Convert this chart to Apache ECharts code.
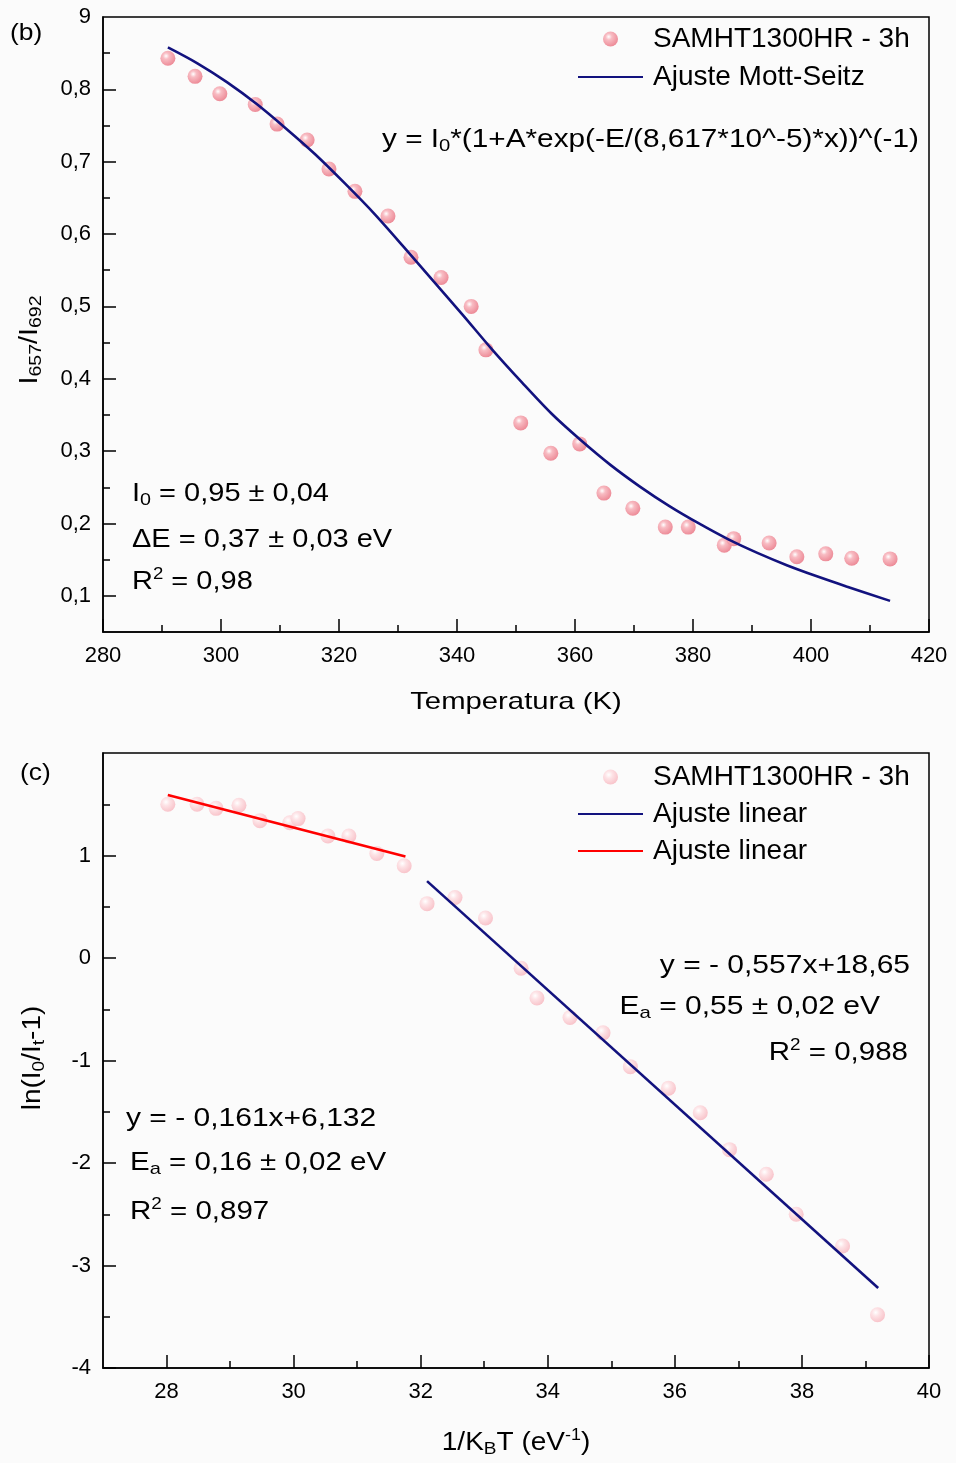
<!DOCTYPE html>
<html>
<head>
<meta charset="utf-8">
<script src="https://cdn.jsdelivr.net/npm/echarts@6/dist/echarts.min.js"></script>
<style>
  html, body { margin: 0; padding: 0; background: #fbfbfb; }
  #chart { width: 956px; height: 1463px; }
</style>
</head>
<body>
<div id="chart"></div>
<script>
// ---- Panel (b): intensity ratio vs temperature ----
const tempK = [291.0, 295.6, 299.8, 305.8, 309.5, 314.6, 318.3, 322.7, 328.3, 332.2,
  337.3, 342.4, 344.9, 350.8, 355.9, 360.8, 364.9, 369.8, 375.3, 379.2,
  385.3, 386.9, 392.9, 397.6, 402.5, 406.9, 413.4];
const ratio = [0.843, 0.818, 0.794, 0.779, 0.752, 0.730, 0.690, 0.659, 0.625, 0.568,
  0.540, 0.500, 0.440, 0.339, 0.297, 0.310, 0.242, 0.221, 0.195, 0.195,
  0.170, 0.179, 0.173, 0.154, 0.158, 0.152, 0.151];
// Mott-Seitz fit curve, sampled along its length
const fitT = [291, 296, 301, 306, 311, 316, 321, 326, 331, 336, 341, 346, 351, 356,
  361, 366, 371, 376, 381, 386, 391, 396, 401, 406, 413.4];
const fitRatio = [0.858, 0.836, 0.810, 0.780, 0.746, 0.710, 0.670, 0.628, 0.582, 0.535,
  0.488, 0.440, 0.395, 0.352, 0.315, 0.281, 0.251, 0.224, 0.200, 0.178,
  0.159, 0.142, 0.127, 0.113, 0.093];
const bYLabels = [0.1, 0.2, 0.3, 0.4, 0.5, 0.6, 0.7, 0.8, 0.9];
const bYMajor = [0.1, 0.2, 0.3, 0.4, 0.5, 0.6, 0.7, 0.8];
const bYMinor = [0.15, 0.25, 0.35, 0.45, 0.55, 0.65, 0.75, 0.85];
const bXMajor = [280, 300, 320, 340, 360, 380, 400, 420];
const bXMinor = [290, 310, 330, 350, 370, 390, 410];

// ---- Panel (c): Arrhenius plot ----
const invKT = [28.02, 28.48, 28.78, 29.14, 29.47, 29.94, 30.07, 30.54, 30.87, 31.31,
  31.74, 32.10, 32.54, 33.02, 33.58, 33.83, 34.35, 34.87, 35.30, 35.90,
  36.40, 36.86, 37.44, 37.91, 38.64, 39.19];
const lnRatio = [1.50, 1.50, 1.46, 1.49, 1.34, 1.32, 1.36, 1.19, 1.19, 1.02,
  0.90, 0.53, 0.59, 0.39, -0.10, -0.39, -0.58, -0.73, -1.06, -1.27,
  -1.51, -1.87, -2.11, -2.50, -2.81, -3.48];
const fitLowX = [28.02, 31.76];
const fitLowY = [1.59, 0.99];
const fitHighX = [32.10, 39.20];
const fitHighY = [0.75, -3.22];
const cXMajor = [28, 30, 32, 34, 36, 38, 40];
const cXMinor = [29, 31, 33, 35, 37, 39];
const cYLabels = [-4, -3, -2, -1, 0, 1];
const cYMajor = [-4, -3, -2, -1, 0, 1];
const cYMinor = [-3.5, -2.5, -1.5, -0.5, 0.5, 1.5];

const FONT = '"Liberation Sans", Arial, Helvetica, sans-serif';
const NAVY = '#12127e';
const RED = '#ff0000';

const pair = (xs, ys) => xs.map((x, i) => [x, ys[i]]);

function sphere(light) {
  return {
    type: 'radial', x: 0.38, y: 0.35, r: 0.7,
    colorStops: light
      ? [{ offset: 0, color: '#ffffff' }, { offset: 0.35, color: '#fde3e6' }, { offset: 1, color: '#f8c1c8' }]
      : [{ offset: 0, color: '#ffffff' }, { offset: 0.3, color: '#f8bcc3' }, { offset: 1, color: '#ec8794' }]
  };
}

function mainAxis(dim, min, max, gridIndex, labels, major, fmt) {
  return {
    type: 'value', gridIndex, min, max,
    position: dim === 'x' ? 'bottom' : 'left',
    axisLine: { show: true, onZero: false, lineStyle: { color: '#000', width: 1.5 } },
    axisTick: { show: true, inside: true, length: 13, customValues: major, lineStyle: { color: '#000', width: 1.5 } },
    axisLabel: {
      show: true, customValues: labels, color: '#000', fontFamily: FONT, fontSize: 22,
      margin: dim === 'x' ? 13 : 12, formatter: fmt
    },
    splitLine: { show: false }
  };
}
function minorAxis(dim, min, max, gridIndex, minor) {
  return {
    type: 'value', gridIndex, min, max,
    position: dim === 'x' ? 'bottom' : 'left',
    axisLine: { show: false, onZero: false },
    axisTick: { show: true, inside: true, length: 7, customValues: minor, lineStyle: { color: '#000', width: 1.5 } },
    axisLabel: { show: false },
    splitLine: { show: false }
  };
}
const comma = v => String(v).replace('.', ',');
const bYFmt = v => (Math.abs(v - 0.9) < 1e-6 ? '9' : comma(Math.round(v * 10) / 10));

function txt(x, y, rich, text, opts) {
  opts = opts || {};
  return {
    type: 'text', x, y, scaleX: opts.sx || 1.16, rotation: opts.rot || 0, silent: true,
    style: {
      text, rich, fill: '#000', font: (opts.size || 25) + 'px ' + FONT,
      align: opts.align || 'left', verticalAlign: 'middle'
    }
  };
}
const R = {
  sub: { fontSize: 17, fontFamily: FONT, lineHeight: 4, verticalAlign: 'bottom', fill: '#000' },
  sup: { fontSize: 16, fontFamily: FONT, lineHeight: 14, verticalAlign: 'top', fill: '#000' },
  m: { fontSize: 25, fontFamily: FONT, lineHeight: 30, fill: '#000' }
};

const lineEntry = name => ({ name, itemStyle: { opacity: 0 } });
const legendText = { fontFamily: FONT, fontSize: 28, color: '#000', lineHeight: 26, padding: [0, 0, 0, 5] };

const chart = echarts.init(document.getElementById('chart'), null, { renderer: 'canvas' });
chart.setOption({
  backgroundColor: '#fbfbfb',
  animation: false,
  grid: [
    { left: 103, right: 27, top: 17, height: 615, show: true, borderColor: '#000', borderWidth: 1.5, backgroundColor: 'transparent' },
    { left: 103, right: 27, top: 753, height: 615, show: true, borderColor: '#000', borderWidth: 1.5, backgroundColor: 'transparent' }
  ],
  xAxis: [
    mainAxis('x', 280, 420, 0, bXMajor, bXMajor),
    minorAxis('x', 280, 420, 0, bXMinor),
    mainAxis('x', 27, 40, 1, cXMajor, cXMajor),
    minorAxis('x', 27, 40, 1, cXMinor)
  ],
  yAxis: [
    mainAxis('y', 0.05, 0.9, 0, bYLabels, bYMajor, bYFmt),
    minorAxis('y', 0.05, 0.9, 0, bYMinor),
    mainAxis('y', -4, 2, 1, cYLabels, cYMajor),
    minorAxis('y', -4, 2, 1, cYMinor)
  ],
  legend: [
    {
      left: 577, top: 25, orient: 'vertical', padding: 0, itemGap: 10,
      itemWidth: 65, itemHeight: 15, selectedMode: false, textStyle: legendText,
      data: ['SAMHT1300HR - 3h', lineEntry('Ajuste Mott-Seitz')]
    },
    {
      left: 577, top: 763, orient: 'vertical', padding: 0, itemGap: 9,
      itemWidth: 65, itemHeight: 15, selectedMode: false, textStyle: legendText,
      data: ['SAMHT1300HR - 3h ', lineEntry('Ajuste linear'), lineEntry('Ajuste linear ')]
    }
  ],
  series: [
    {
      name: 'SAMHT1300HR - 3h', type: 'scatter', xAxisIndex: 0, yAxisIndex: 0,
      symbol: 'circle', symbolSize: 15, data: pair(tempK, ratio),
      itemStyle: { color: sphere(false), opacity: 1 }
    },
    {
      name: 'Ajuste Mott-Seitz', type: 'line', xAxisIndex: 0, yAxisIndex: 0,
      smooth: 0.3, symbol: 'none', data: pair(fitT, fitRatio),
      lineStyle: { color: NAVY, width: 2.6 }, itemStyle: { color: NAVY }
    },
    {
      name: 'SAMHT1300HR - 3h ', type: 'scatter', xAxisIndex: 2, yAxisIndex: 2,
      symbol: 'circle', symbolSize: 15, data: pair(invKT, lnRatio),
      itemStyle: { color: sphere(true), opacity: 1 }
    },
    {
      name: 'Ajuste linear', type: 'line', xAxisIndex: 2, yAxisIndex: 2,
      symbol: 'none', data: pair(fitHighX, fitHighY),
      lineStyle: { color: NAVY, width: 2.6 }, itemStyle: { color: NAVY }
    },
    {
      name: 'Ajuste linear ', type: 'line', xAxisIndex: 2, yAxisIndex: 2,
      symbol: 'none', data: pair(fitLowX, fitLowY),
      lineStyle: { color: RED, width: 2.6 }, itemStyle: { color: RED }
    }
  ],
  graphic: [
    // panel tags
    txt(10, 33, null, '(b)', { size: 24, sx: 1.1 }),
    txt(20, 773, null, '(c)', { size: 24, sx: 1.1 }),
    // panel (b) texts
    txt(382, 140, R, '{m|y = I}{sub|0}{m|*(1+A*exp(-E/(8,617*10^-5)*x))^(-1)}', { sx: 1.19 }),
    txt(132, 494, R, '{m|I}{sub|0}{m| = 0,95 ± 0,04}'),
    txt(132, 540, R, '{m|ΔE = 0,37 ± 0,03 eV}'),
    txt(132, 582, R, '{m|R}{sup|2}{m| = 0,98}'),
    txt(516, 702, null, 'Temperatura (K)', { size: 24, sx: 1.22, align: 'center' }),
    txt(30, 340, R, '{m|I}{sub|657}{m|/I}{sub|692}', { rot: Math.PI / 2, sx: 1.15, align: 'center' }),
    // panel (c) texts
    txt(910, 966, R, '{m|y = - 0,557x+18,65}', { align: 'right', sx: 1.2 }),
    txt(880, 1007, R, '{m|E}{sub|a}{m| = 0,55 ± 0,02 eV}', { align: 'right', sx: 1.2 }),
    txt(908, 1053, R, '{m|R}{sup|2}{m| = 0,988}', { align: 'right', sx: 1.18 }),
    txt(126, 1119, R, '{m|y = - 0,161x+6,132}', { sx: 1.2 }),
    txt(130, 1163, R, '{m|E}{sub|a}{m| = 0,16 ± 0,02 eV}', { sx: 1.18 }),
    txt(130, 1212, R, '{m|R}{sup|2}{m| = 0,897}', { sx: 1.18 }),
    txt(516, 1443, R, '{m|1/K}{sub|B}{m|T (eV}{sup|-1}{m|)}', { align: 'center', sx: 1.12 }),
    txt(33, 1058, R, '{m|ln(I}{sub|0}{m|/I}{sub|t}{m|-1)}', { rot: Math.PI / 2, sx: 1.12, align: 'center' })
  ]
});
</script>
</body>
</html>
